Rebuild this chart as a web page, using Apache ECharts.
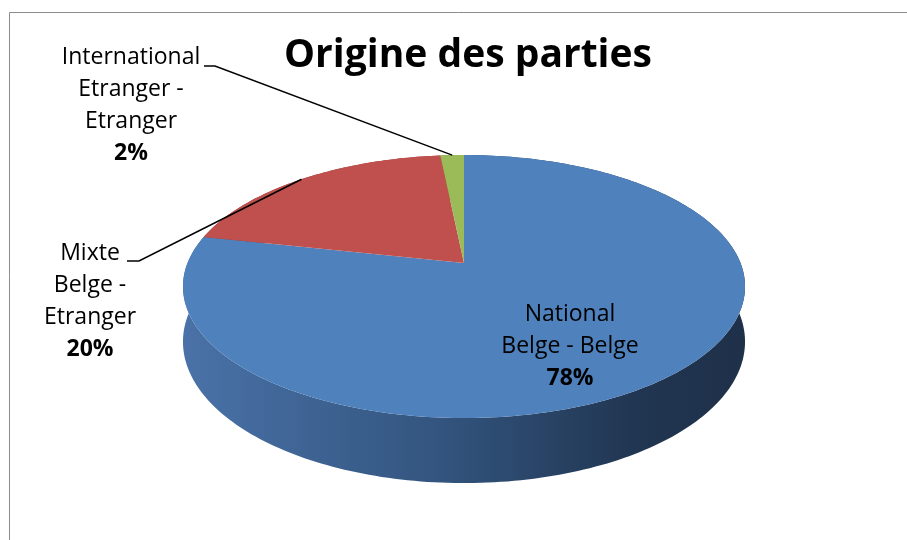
<!DOCTYPE html>
<html>
<head>
<meta charset="utf-8">
<title>Origine des parties</title>
<script src="https://cdn.jsdelivr.net/npm/echarts@6/dist/echarts.min.js"></script>
</head>
<body style="margin:0">
<div id="main" style="width:907px;height:540px;"></div>
<script>
// données
const categories = ['National\nBelge - Belge', 'Mixte\nBelge -\nEtranger', 'International\nEtranger -\nEtranger'];
const counts = [196, 50, 4];
const topColors = ['#4f81bd', '#c0504d', '#9bbb59'];
const sideColors = ['#3a5f8f', '#8f3b39', '#74903f'];

// géométrie du camembert 3D (perspective simple)
const cx = 464, cy = 263;
const rx = 276.5, ry = 127.3, persp = 0.179, depth = 53.4;

// position des étiquettes (centre du bloc) et petit trait horizontal
const labelLayout = [
  { x: 570, y: 346 },
  { x: 90, y: 301, hook: [[127, 261], [139, 261]] },
  { x: 131, y: 105, hook: [[204, 66], [215, 66]] }
];

const total = counts.reduce((a, b) => a + b, 0);
const startAngles = [];
let acc = 0;
counts.forEach(v => { startAngles.push(acc / total * Math.PI * 2); acc += v; });
const endAngle = i => startAngles[i] + counts[i] / total * Math.PI * 2;

function project(phi, drop) {
  const X = Math.sin(phi), Z = -Math.cos(phi);
  const w = 1 - persp * Z;
  return [cx + rx * X / w, cy + (ry * Z + drop) / w];
}
function arc(a0, a1, drop) {
  const n = Math.max(2, Math.ceil((a1 - a0) / 0.02));
  const pts = [];
  for (let k = 0; k <= n; k++) pts.push(project(a0 + (a1 - a0) * k / n, drop));
  return pts;
}

const sideGradient = {
  type: 'linear', x: 184, y: 0, x2: 745, y2: 0, global: true,
  colorStops: [
    { offset: 0, color: '#4a72a8' },
    { offset: 0.45, color: '#33557f' },
    { offset: 0.8, color: '#213652' },
    { offset: 1, color: '#1f3049' }
  ]
};

let myChart = echarts.init(document.getElementById('main'));
myChart.setOption({
  animation: false,
  title: {
    text: 'Origine des parties',
    left: 463,
    top: 31,
    textAlign: 'center',
    textStyle: { fontFamily: 'Open Sans', fontSize: 39, fontWeight: 'bold', color: '#000' }
  },
  graphic: [{
    type: 'rect',
    shape: { x: 9.5, y: 12.5, width: 1000, height: 600 },
    style: { fill: 'none', stroke: '#8c8c8c', lineWidth: 1 },
    silent: true
  }],
  series: [
    {
      // parois latérales
      type: 'custom',
      coordinateSystem: 'none',
      z: 1,
      silent: true,
      data: counts,
      renderItem: (params, api) => {
        const i = params.dataIndex;
        const a0 = startAngles[i], a1 = endAngle(i);
        const pts = arc(a0, a1, 0).concat(arc(a0, a1, depth).reverse());
        return {
          type: 'polygon',
          shape: { points: pts },
          style: { fill: i === 0 ? sideGradient : sideColors[i] }
        };
      }
    },
    {
      // faces supérieures + étiquettes
      type: 'custom',
      coordinateSystem: 'none',
      z: 2,
      silent: true,
      data: counts,
      renderItem: (params, api) => {
        const i = params.dataIndex;
        const a0 = startAngles[i], a1 = endAngle(i);
        const pts = [[cx, cy]].concat(arc(a0, a1, 0));
        const pct = Math.round(api.value(0) / total * 100) + '%';
        const lay = labelLayout[i];
        const txt = categories[i].split('\n').map(s => '{n|' + s + '}').join('\n') + '\n{b|' + pct + '}';
        const children = [
          { type: 'polygon', shape: { points: pts }, style: { fill: topColors[i] } },
          {
            type: 'text', x: lay.x, y: lay.y, z2: 20,
            style: {
              text: txt, align: 'center', verticalAlign: 'middle',
              rich: {
                n: { fontFamily: 'Open Sans', fontSize: 23, lineHeight: 32, fill: '#000', align: 'center' },
                b: { fontFamily: 'Open Sans', fontSize: 23, fontWeight: 'bold', lineHeight: 32, fill: '#000', align: 'center' }
              }
            }
          }
        ];
        if (lay.hook) {
          const mid = project((a0 + a1) / 2, 0);
          children.push({
            type: 'polyline', z2: 15,
            shape: { points: [lay.hook[0], lay.hook[1], mid] },
            style: { stroke: '#000', lineWidth: 1.5, fill: 'none' }
          });
        }
        return { type: 'group', children: children };
      }
    }
  ]
});
</script>
</body>
</html>
